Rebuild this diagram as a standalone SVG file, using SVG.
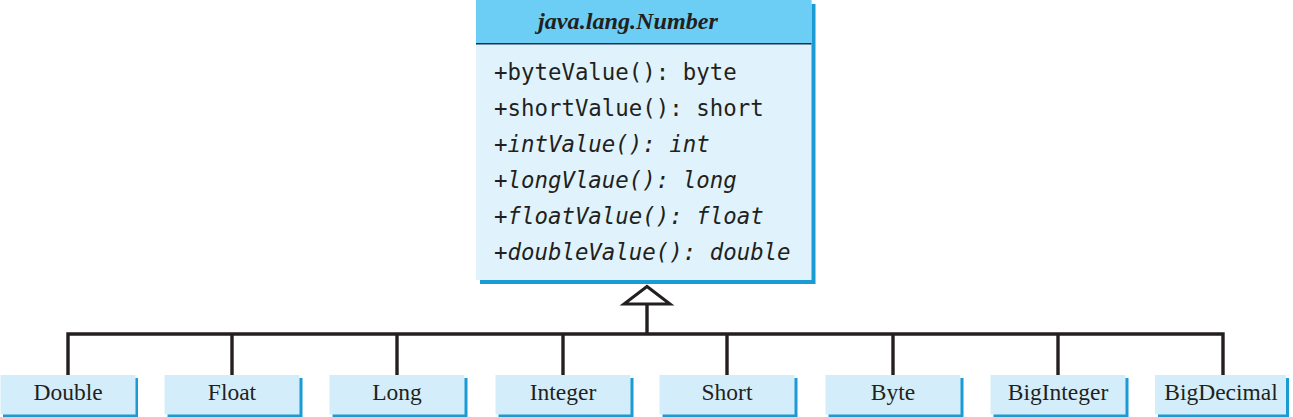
<svg xmlns="http://www.w3.org/2000/svg" width="1293" height="417" viewBox="0 0 1293 417">
<style>
.shadow{fill:#1a9bd4}
.head{fill:#6dcef5}
.body{fill:#e0f3fc}
.sub{fill:#d3eefa}
.m{font-family:"DejaVu Sans Mono","Liberation Mono",monospace;font-size:22.4px;fill:#231f20}
.i{font-style:italic}
.t{font-family:"Liberation Serif","Times New Roman",serif;font-size:23.5px;fill:#231f20;text-anchor:middle}
.h{font-family:"Liberation Serif","Times New Roman",serif;font-size:23px;font-weight:bold;font-style:italic;fill:#231f20}
.ln{stroke:#231f20;stroke-width:3.4;fill:none}
</style>
<rect width="1293" height="417" fill="#ffffff"/>
<g id="number">
  <rect class="shadow" x="480" y="4" width="335.5" height="280"/>
  <rect class="body" x="476" y="0" width="335.5" height="280"/>
  <rect class="head" x="476" y="0" width="335.5" height="43.5"/>
  <line x1="476" y1="43.8" x2="811.5" y2="43.8" stroke="#10344a" stroke-width="1.6"/>
  <text class="h" x="538" y="29" textLength="180" lengthAdjust="spacingAndGlyphs">java.lang.Number</text>
  <text class="m" x="494" y="80">+byteValue(): byte</text>
  <text class="m" x="494" y="116">+shortValue(): short</text>
  <text class="m i" x="494" y="152">+intValue(): int</text>
  <text class="m i" x="494" y="188">+longVlaue(): long</text>
  <text class="m i" x="494" y="224">+floatValue(): float</text>
  <text class="m i" x="494" y="260">+doubleValue(): double</text>
</g>
<g id="connectors">
  <polyline class="ln" points="68,375 68,334 1223,334 1223,375"/>
  <line class="ln" x1="232" y1="334" x2="232" y2="375"/>
  <line class="ln" x1="397" y1="334" x2="397" y2="375"/>
  <line class="ln" x1="563" y1="334" x2="563" y2="375"/>
  <line class="ln" x1="727" y1="334" x2="727" y2="375"/>
  <line class="ln" x1="893" y1="334" x2="893" y2="375"/>
  <line class="ln" x1="1058" y1="334" x2="1058" y2="375"/>
  <line class="ln" x1="647" y1="334" x2="647" y2="304"/>
  <polygon points="647,286.5 624,304 670,304" fill="#ffffff" stroke="#231f20" stroke-width="3" stroke-linejoin="miter"/>
</g>
<g id="double">
  <rect class="shadow" x="3" y="378" width="135" height="39"/>
  <rect class="sub" x="0.5" y="375" width="135" height="39.5"/>
  <text class="t" x="68" y="400">Double</text>
</g>
<g id="float">
  <rect class="shadow" x="167.5" y="378" width="135" height="39"/>
  <rect class="sub" x="164.5" y="375" width="135" height="39.5"/>
  <text class="t" x="232" y="400">Float</text>
</g>
<g id="long">
  <rect class="shadow" x="332.5" y="378" width="135" height="39"/>
  <rect class="sub" x="329.5" y="375" width="135" height="39.5"/>
  <text class="t" x="397" y="400">Long</text>
</g>
<g id="integer">
  <rect class="shadow" x="498.5" y="378" width="135" height="39"/>
  <rect class="sub" x="495.5" y="375" width="135" height="39.5"/>
  <text class="t" x="563" y="400">Integer</text>
</g>
<g id="short">
  <rect class="shadow" x="662.5" y="378" width="135" height="39"/>
  <rect class="sub" x="659.5" y="375" width="135" height="39.5"/>
  <text class="t" x="727" y="400">Short</text>
</g>
<g id="byte">
  <rect class="shadow" x="828.5" y="378" width="135" height="39"/>
  <rect class="sub" x="825.5" y="375" width="135" height="39.5"/>
  <text class="t" x="893" y="400">Byte</text>
</g>
<g id="biginteger">
  <rect class="shadow" x="993.5" y="378" width="135" height="39"/>
  <rect class="sub" x="990.5" y="375" width="135" height="39.5"/>
  <text class="t" x="1058" y="400">BigInteger</text>
</g>
<g id="bigdecimal">
  <rect class="shadow" x="1158" y="378" width="131" height="39"/>
  <rect class="sub" x="1155" y="375" width="131" height="39.5"/>
  <text class="t" x="1221" y="400">BigDecimal</text>
</g>
</svg>
